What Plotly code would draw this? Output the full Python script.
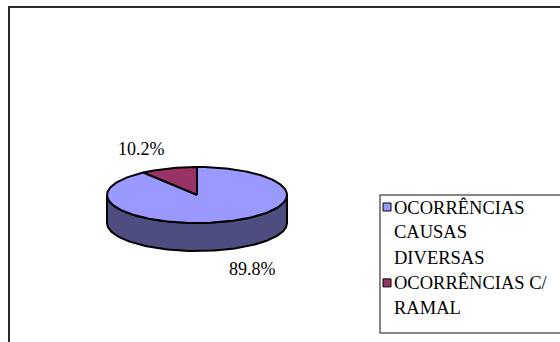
import numpy as np
import plotly.graph_objects as go

# ---- data ----
categories = ["OCORRÊNCIAS CAUSAS DIVERSAS", "OCORRÊNCIAS C/ RAMAL"]
legend_lines = [["OCORRÊNCIAS", "CAUSAS", "DIVERSAS"], ["OCORRÊNCIAS C/", "RAMAL"]]
values = [89.8, 10.2]
top_colors = ["#9999FF", "#993366"]
side_colors = ["#4D4D80", "#4D1A33"]

FONT = "Liberation Serif, Times New Roman, serif"

# ---- geometry (pixel-like data coordinates) ----
W, H = 560, 342
cx, cy, rx, ry, depth = 197, 195, 90, 28, 28

fig = go.Figure()

total = sum(values)
fracs = [v / total for v in values]
order = [1, 0]  # counterclockwise from 12 o'clock
start = 90.0
angles = {}
for i in order:
    span = fracs[i] * 360.0
    angles[i] = (start, start + span)
    start += span


def ell(t_deg, dy=0.0):
    t = np.radians(t_deg)
    return cx + rx * np.cos(t), cy - ry * np.sin(t) + dy


# side wall (front half only)
for i in order:
    a0, a1 = angles[i]
    segs = []
    for off in (0.0, 360.0, -360.0):
        s, e = max(a0 + off, 180.0), min(a1 + off, 360.0)
        if e > s:
            segs.append((s, e))
    for s, e in segs:
        ts = np.linspace(s, e, 120)
        xt, yt = ell(ts)
        xb, yb = ell(ts[::-1], depth)
        xs = np.concatenate([xt, xb, xt[:1]])
        ys = np.concatenate([yt, yb, yt[:1]])
        fig.add_trace(go.Scatter(x=xs, y=ys, mode="lines", fill="toself",
                                 fillcolor=side_colors[i],
                                 line=dict(color="black", width=2),
                                 hoverinfo="skip", showlegend=False))

# top faces
for i in order:
    a0, a1 = angles[i]
    ts = np.linspace(a0, a1, 240)
    xa, ya = ell(ts)
    xs = np.concatenate([[cx], xa, [cx]])
    ys = np.concatenate([[cy], ya, [cy]])
    fig.add_trace(go.Scatter(x=xs, y=ys, mode="lines", fill="toself",
                             fillcolor=top_colors[i],
                             line=dict(color="black", width=2),
                             name=categories[i], hoverinfo="skip",
                             showlegend=False))

# percentage labels
for i in order:
    a0, a1 = angles[i]
    m = np.radians((a0 + a1) / 2)
    lx = cx + 1.95 * rx * np.cos(m)
    ly = cy - 1.73 * ry * np.sin(m) + (depth if np.sin(m) < 0 else 0)
    fig.add_annotation(x=lx, y=ly, text=f"{values[i]:.1f}%", showarrow=False,
                       font=dict(family=FONT, size=18, color="black"),
                       xanchor="center", yanchor="middle")

# legend (manual)
lg_x0, lg_y0, lg_y1 = 380, 195, 333
fig.add_shape(type="rect", x0=lg_x0, y0=lg_y0, x1=W + 20, y1=lg_y1,
              line=dict(color="#606060", width=1.5), fillcolor="rgba(0,0,0,0)")
line_y = 207
step = 25.3
for i, lines in enumerate(legend_lines):
    fig.add_trace(go.Scatter(x=[387], y=[line_y], mode="markers",
                             marker=dict(symbol="square", size=8, color=top_colors[i],
                                         line=dict(color="black", width=1)),
                             hoverinfo="skip", showlegend=False))
    for ln in lines:
        fig.add_annotation(x=392, y=line_y, text=ln, showarrow=False,
                           font=dict(family=FONT, size=18.5, color="black"),
                           xanchor="left", yanchor="middle")
        line_y += step

# outer frame
fig.add_shape(type="rect", x0=9, y0=7, x1=W + 20, y1=H + 20,
              line=dict(color="#2a2a2a", width=2))

fig.update_xaxes(range=[0, W], visible=False, fixedrange=True)
fig.update_yaxes(range=[H, 0], visible=False, fixedrange=True)
fig.update_layout(width=W, height=H, margin=dict(l=0, r=0, t=0, b=0),
                  plot_bgcolor="white", paper_bgcolor="white", showlegend=False,
                  font=dict(family=FONT))

fig.write_html("out.html")
